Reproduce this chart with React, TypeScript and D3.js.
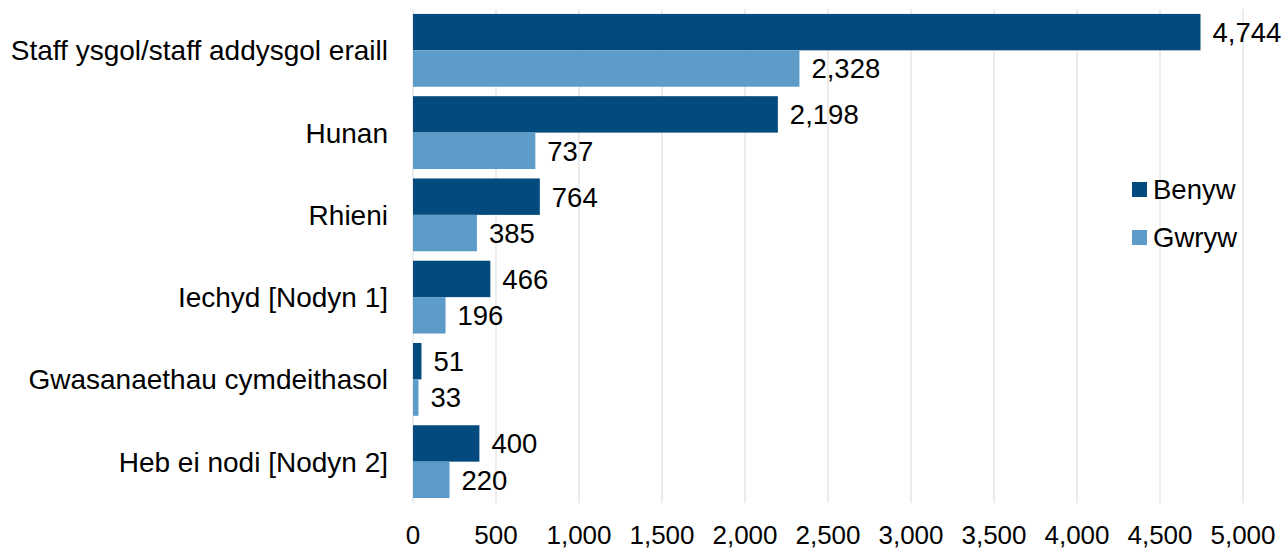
import * as d3 from "d3";

const categories = [
  "Staff ysgol/staff addysgol eraill",
  "Hunan",
  "Rhieni",
  "Iechyd [Nodyn 1]",
  "Gwasanaethau cymdeithasol",
  "Heb ei nodi [Nodyn 2]",
];
const seriesNames = ["Benyw", "Gwryw"];
const benyw = [4744, 2198, 764, 466, 51, 400];
const gwryw = [2328, 737, 385, 196, 33, 220];
const ticks = [0, 500, 1000, 1500, 2000, 2500, 3000, 3500, 4000, 4500, 5000];
const colors = ["#034a7e", "#5d9bc9"];

const App = () => {
  const width = 1284;
  const height = 551;
  const font = "'Liberation Sans', Arial, sans-serif";
  const fs = 27.5;

  const x = d3.scaleLinear().domain([0, 5000]).range([413, 1243]);
  const y = d3
    .scaleBand()
    .domain(categories)
    .range([9, 503])
    .paddingInner(0.115)
    .paddingOuter(0.06);
  const inner = d3
    .scaleBand()
    .domain(seriesNames)
    .range([0, y.bandwidth()]);
  const series = [benyw, gwryw];
  const fmt = d3.format(",");

  return (
    <svg
      width={width}
      height={height}
      style={{ position: "absolute", left: 0, top: 0, background: "#fff" }}
    >
      {ticks.map((t) => (
        <line
          key={t}
          x1={x(t)}
          x2={x(t)}
          y1={9}
          y2={503}
          stroke="#d9d9d9"
          strokeWidth={1}
        />
      ))}
      {categories.map((c, i) => (
        <g key={c}>
          {series.map((s, j) => (
            <g key={j}>
              <rect
                x={x(0)}
                y={y(c)! + inner(seriesNames[j])!}
                width={x(s[i]) - x(0)}
                height={inner.bandwidth()}
                fill={colors[j]}
              />
              <text
                x={x(s[i]) + 12}
                y={y(c)! + inner(seriesNames[j])! + inner.bandwidth() / 2}
                dy="0.36em"
                fontFamily={font}
                fontSize={fs}
                fill="#000"
              >
                {fmt(s[i])}
              </text>
            </g>
          ))}
          <text
            x={388}
            y={y(c)! + y.bandwidth() / 2}
            dy="0.36em"
            textAnchor="end"
            fontFamily={font}
            fontSize={28}
            fill="#000"
          >
            {c}
          </text>
        </g>
      ))}
      {ticks.map((t) => (
        <text
          key={t}
          x={x(t)}
          y={535}
          dy="0.36em"
          textAnchor="middle"
          fontFamily={font}
          fontSize={26}
          fill="#000"
        >
          {fmt(t)}
        </text>
      ))}
      {seriesNames.map((n, j) => (
        <g key={n} transform={`translate(1132,${182 + j * 48})`}>
          <rect width={15} height={15} fill={colors[j]} />
          <text
            x={21}
            y={7.5}
            dy="0.36em"
            fontFamily={font}
            fontSize={fs}
            fill="#000"
          >
            {n}
          </text>
        </g>
      ))}
    </svg>
  );
};

export default App;
